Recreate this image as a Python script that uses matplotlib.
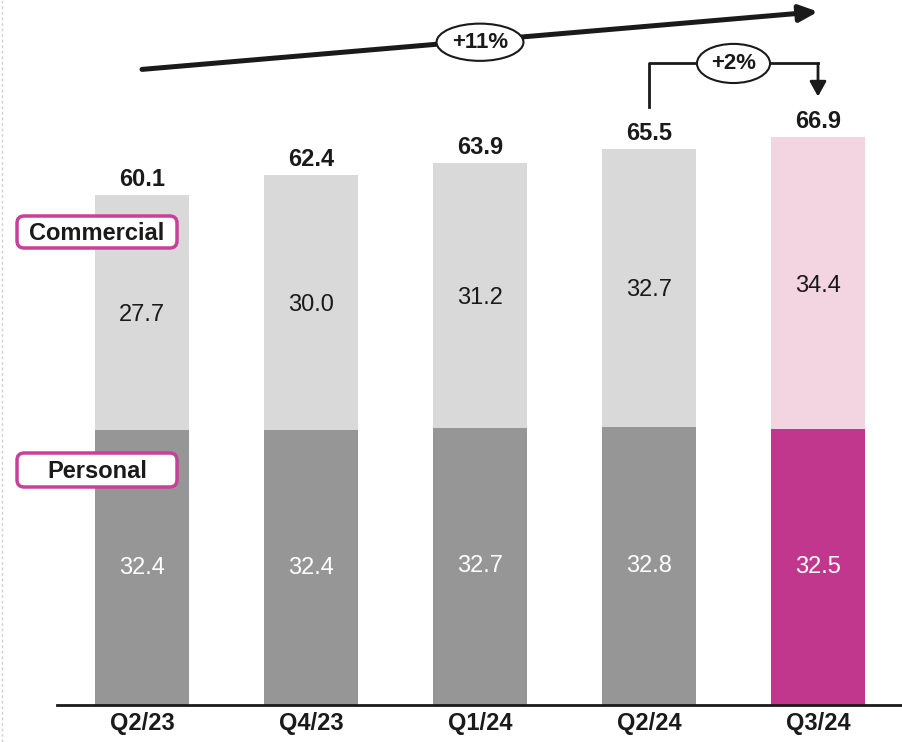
import matplotlib.pyplot as plt
from matplotlib.patches import FancyBboxPatch
from matplotlib.lines import Line2D

plt.rcParams['font.family'] = ['Liberation Sans', 'DejaVu Sans']

quarters = ['Q2/23', 'Q4/23', 'Q1/24', 'Q2/24', 'Q3/24']
personal = [32.4, 32.4, 32.7, 32.8, 32.5]
commercial = [27.7, 30.0, 31.2, 32.7, 34.4]
totals = [60.1, 62.4, 63.9, 65.5, 66.9]

grey_dark = '#969696'
grey_light = '#d9d9d9'
magenta = '#c2378e'
pink = '#f3d5e1'
txt = '#1a1a1a'

fig = plt.figure(figsize=(9.03, 7.42), dpi=100)
ax = fig.add_axes([0, 1 - 705 / 742, 1, 705 / 742])

x = list(range(len(quarters)))
col_p = [grey_dark] * 4 + [magenta]
col_c = [grey_light] * 4 + [pink]
w = 0.556
ax.bar(x, personal, width=w, color=col_p)
ax.bar(x, commercial, width=w, bottom=personal, color=col_c)

for i in x:
    ax.text(i, personal[i] / 2, f'{personal[i]:.1f}', ha='center', va='center',
            color='white', fontsize=17)
    ax.text(i, personal[i] + commercial[i] / 2 - 0.3, f'{commercial[i]:.1f}', ha='center',
            va='center', color=txt, fontsize=17)
    ax.annotate(f'{totals[i]:.1f}', (i, totals[i]), xytext=(0, 3), textcoords='offset points',
                ha='center', va='bottom', fontsize=17, fontweight='bold', color=txt)

ax.set_xlim(-142 / 169, (903 - 142) / 169)
ax.set_ylim(0, 705 / 8.486)
ax.set_xticks(x)
ax.set_xticklabels(quarters, fontsize=17, fontweight='bold', color=txt)
ax.tick_params(axis='x', length=0, pad=5)
ax.set_yticks([])
for s in ['top', 'right', 'left']:
    ax.spines[s].set_visible(False)
ax.spines['bottom'].set_bounds(-0.5, ax.get_xlim()[1])
ax.spines['bottom'].set_linewidth(2)
ax.spines['bottom'].set_color(txt)
ax.patch.set_alpha(0)

# overall growth arrow
ax.annotate('', xy=(4.0, 81.7), xytext=(0.0, 74.9),
            arrowprops=dict(arrowstyle='-|>,head_length=1.1,head_width=0.5', lw=3.6, color=txt,
                            shrinkA=0, shrinkB=0))
ax.text(2.0, 78.1, '+11%', ha='center', va='center', fontsize=16, fontweight='bold', color=txt,
        bbox=dict(boxstyle='ellipse,pad=0.12', fc='white', ec=txt, lw=1.5))

# quarter-over-quarter bracket
ax.plot([3, 3, 4], [70.5, 75.6, 75.6], color=txt, lw=2)
ax.annotate('', xy=(4, 71.7), xytext=(4, 75.6),
            arrowprops=dict(arrowstyle='-|>,head_length=0.9,head_width=0.5', lw=2, color=txt,
                            shrinkA=0, shrinkB=0))
ax.text(3.5, 75.6, '+2%', ha='center', va='center', fontsize=16, fontweight='bold', color=txt,
        bbox=dict(boxstyle='ellipse,pad=0.15', fc='white', ec=txt, lw=1.5))

# series labels
for label, ytop, h in [('Commercial', 216, 32), ('Personal', 453, 34)]:
    box = FancyBboxPatch((17 / 903, 1 - (ytop + h) / 742), 160 / 903, h / 742,
                         boxstyle='round,pad=0,rounding_size=0.008', mutation_aspect=903 / 742,
                         transform=fig.transFigure, fc='white', ec='#c8409a', lw=2.5)
    fig.add_artist(box)
    fig.text(97 / 903, 1 - (ytop + h / 2 + 1) / 742, label, ha='center', va='center',
             fontsize=17, fontweight='bold', color=txt)

fig.add_artist(Line2D([2 / 903, 2 / 903], [0, 1], transform=fig.transFigure,
                      color='#d0d0d0', lw=1, ls=(0, (2, 2))))

fig.savefig('out.png', dpi=100)
